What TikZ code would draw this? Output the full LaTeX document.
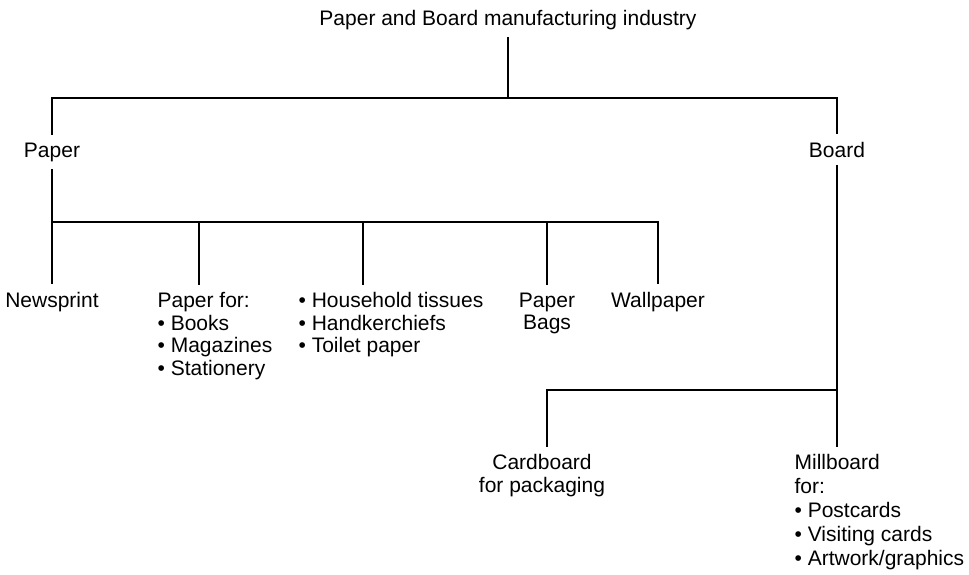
\documentclass[tikz,border=0pt]{standalone}
\usepackage{fontspec}
\setmainfont{Liberation Sans}
\begin{document}
\begin{tikzpicture}[x=1pt,y=-1pt,
    lbl/.style={font=\fontsize{21}{22.5}\selectfont, inner xsep=0pt, inner ysep=7pt, align=left},
    every path/.style={line width=1.2pt}]
  \useasboundingbox (0,0) rectangle (969,574);

  % Top level
  \node[lbl, anchor=base] (industry) at (508,25) {Paper and Board manufacturing industry};
  \node[lbl, anchor=base] (paper) at (52,157) {Paper};
  \node[lbl, anchor=base] (board) at (837,157) {Board};

  \coordinate (j0) at (508,98);
  \draw (industry.south) -- (j0);
  \draw (paper.north) |- (j0) -| (board.north);

  % Kinds of paper
  \node[lbl, anchor=base] (newsprint) at (52,307) {Newsprint};
  \node[lbl, anchor=north west] (paperfor) at (157,285) {Paper for:\\• Books\\• Magazines\\• Stationery};
  \node[lbl, anchor=north west] (tissues) at (298,285) {• Household tissues\\• Handkerchiefs\\• Toilet paper};
  \node[lbl, anchor=north, align=center] (bags) at (547,285) {Paper\\Bags};
  \node[lbl, anchor=base] (wallpaper) at (658,307) {Wallpaper};

  \coordinate (j1) at (52,222);
  \coordinate (d2) at (199,222);
  \coordinate (d3) at (363,222);
  \draw (paper.south) -- (newsprint.north);
  \draw (j1) -| (wallpaper.north);
  \draw (d2) -- (d2 |- paperfor.north);
  \draw (d3) -- (d3 |- tissues.north);
  \draw (bags.north) -- (bags.north |- j1);

  % Kinds of board
  \node[lbl, anchor=north, align=center] (cardboard) at (542,447) {Cardboard\\for packaging};
  \node[lbl, anchor=north west, font=\fontsize{21}{23.8}\selectfont] (millboard) at (794,447) {Millboard\\for:\\• Postcards\\• Visiting cards\\• Artwork/graphics};

  \coordinate (j2) at (837,390);
  \coordinate (d5) at (547,390);
  \draw (board.south) -- (j2) -- (d5) -- (d5 |- cardboard.north);
  \draw (j2) -- (j2 |- millboard.north);
\end{tikzpicture}
\end{document}
